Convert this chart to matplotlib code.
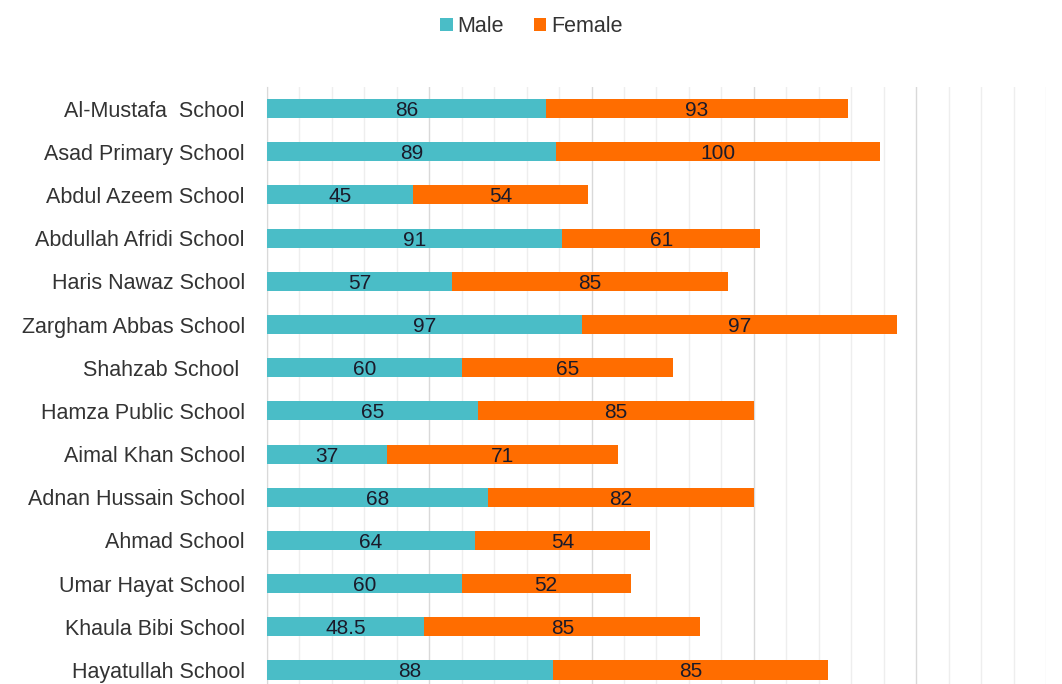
import numpy as np
import matplotlib.pyplot as plt
from matplotlib.ticker import MultipleLocator

plt.rcParams['font.family'] = ['Liberation Sans', 'DejaVu Sans']

schools = ["Al-Mustafa  School", "Asad Primary School", "Abdul Azeem School",
           "Abdullah Afridi School", "Haris Nawaz School", "Zargham Abbas School",
           "Shahzab School ", "Hamza Public School", "Aimal Khan School",
           "Adnan Hussain School", "Ahmad School", "Umar Hayat School",
           "Khaula Bibi School", "Hayatullah School"]
male = [86, 89, 45, 91, 57, 97, 60, 65, 37, 68, 64, 60, 48.5, 88]
female = [93, 100, 54, 61, 85, 97, 65, 85, 71, 82, 54, 52, 85, 85]

teal = '#4ABDC7'
orange = '#FF6D00'

fig = plt.figure(figsize=(10.62, 6.84), dpi=100)
ax = fig.add_axes([0.2514, -0.0111, 0.7335, 0.8839])

y = np.arange(len(schools))
b1 = ax.barh(y, male, height=0.44, color=teal, label='Male', zorder=3)
b2 = ax.barh(y, female, left=male, height=0.44, color=orange, label='Female', zorder=3)

for bars in (b1, b2):
    txts = ax.bar_label(bars, labels=['%g' % v for v in bars.datavalues],
                        label_type='center', fontsize=15, color='#1a1a2a')
    for t in txts:
        t.set_verticalalignment('center_baseline')

ax.set_ylim(len(schools) - 0.5, -0.5)
ax.set_xlim(0, 240)
ax.set_yticks(y)
ax.set_yticklabels(schools, fontsize=15.5, color='#333333')
ax.tick_params(axis='y', length=0, pad=16)
ax.xaxis.set_major_locator(MultipleLocator(50))
ax.xaxis.set_minor_locator(MultipleLocator(10))
ax.tick_params(axis='x', which='both', length=0, labelbottom=False)
ax.grid(axis='x', which='major', color='#d9d9d9', lw=1, zorder=0)
ax.grid(axis='x', which='minor', color='#eeeeee', lw=1, zorder=0)
for s in ['top', 'right', 'bottom']:
    ax.spines[s].set_visible(False)
ax.spines['left'].set_color('#d9d9d9')

fig.legend(loc='upper center', bbox_to_anchor=(0.5, 1.005), ncol=2, frameon=False,
           fontsize=15.5, handlelength=0.6, handleheight=0.6, handletextpad=0.2,
           columnspacing=1.4, labelcolor='#333333')

plt.savefig('out.png')
